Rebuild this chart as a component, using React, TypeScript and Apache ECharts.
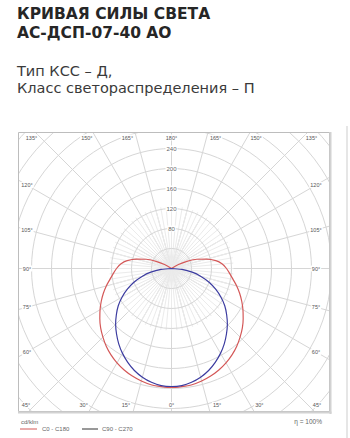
import React, { useEffect, useRef } from "react";
import * as echarts from "echarts";

// ---------- data ----------
const titleLines = ["КРИВАЯ СИЛЫ СВЕТА", "АС-ДСП-07-40 АО"];
const subtitleLines = ["Тип КСС – Д,", "Класс светораспределения – П"];
const gammaAngles = [0, 5, 10, 15, 20, 25, 30, 35, 40, 45, 50, 55, 60, 65, 70, 75, 80, 85, 90, 95, 100, 105, 110, 115, 120, 125, 130, 135, 140, 145, 150, 155, 160, 165, 170, 175, 180];
// C0 - C180 plane (cd/klm)
const c0c180 = [238, 237, 236, 233, 229, 224, 218, 211, 203, 194, 185, 175, 165, 155, 145, 135, 125, 117, 110, 102, 90, 72, 54, 34, 16, 0, 0, 0, 0, 0, 0, 0, 0, 0, 0, 0, 0];
// C90 - C270 plane (cd/klm)
const c90c270 = [236, 235, 231, 225, 217, 207, 196, 184, 171, 158, 144, 130, 114, 97, 80, 61, 42, 21, 0, 0, 0, 0, 0, 0, 0, 0, 0, 0, 0, 0, 0, 0, 0, 0, 0, 0, 0];
const ringTicks = [80, 120, 160, 200, 240];
const frameAngleLabels = [0, 15, 30, 45, 60, 75, 90, 105, 120, 135, 150, 165, 180];
const legendNames = ["C0 - C180", "C90 - C270"];
const unitLabel = "cd/klm";
const efficiencyLabel = "η = 100%";

// ---------- layout ----------
const W = 350;
const H = 438;
const BOX = { x: 18, y: 132, w: 312, h: 280 };
const CX = 153.5; // polar centre inside box
const CY = 136.5;
const PX_PER_UNIT = 0.5;
const R_MAX = 440;
const RED = "#d45858";
const BLUE = "#3c3ca0";
const GRID = "#d6d6d6";

function planeSeries(values: number[]) {
  const pts: [number, number][] = [];
  for (let i = gammaAngles.length - 1; i >= 0; i--) pts.push([values[i], 180 + gammaAngles[i]]);
  for (let i = 1; i < gammaAngles.length; i++) pts.push([values[i], 180 - gammaAngles[i]]);
  return pts;
}

function frameLabelPos(theta: number, side: number) {
  const rad = (theta * Math.PI) / 180;
  const dx = side * Math.sin(rad);
  const dy = Math.cos(rad);
  let t = Infinity;
  let edge = "";
  if (Math.abs(dx) > 1e-9) {
    const tx = 144.5 / Math.abs(dx);
    if (tx < t) { t = tx; edge = "side"; }
  }
  if (dy > 1e-9) {
    const ty = 136.5 / dy;
    if (ty < t) { t = ty; edge = "bottom"; }
  }
  if (dy < -1e-9) {
    const ty = 131 / -dy;
    if (ty < t) { t = ty; edge = "top"; }
  }
  let x = CX + dx * t;
  const y = CY + dy * t;
  if (edge !== "side" && theta % 180 !== 0) x += side * 9;
  return [x, y];
}

export default function App() {
  const mainRef = useRef<HTMLDivElement>(null);
  const polarRef = useRef<HTMLDivElement>(null);

  useEffect(() => {
    const polarChart = echarts.init(polarRef.current!, null, { renderer: "svg" });
    const mainChart = echarts.init(mainRef.current!, null, { renderer: "svg" });

    const angleTexts: any[] = [];
    frameAngleLabels.forEach((a) => {
      const sides = a % 180 === 0 ? [0] : [-1, 1];
      sides.forEach((s) => {
        const [x, y] = frameLabelPos(a, s === 0 ? 1 : s);
        angleTexts.push({
          type: "text",
          x,
          y,
          z: 10,
          style: {
            text: a + "°",
            fontSize: 5.5,
            fontFamily: "Liberation Sans",
            fill: "#555",
            align: "center",
            verticalAlign: "middle",
            backgroundColor: "#fff",
            padding: [0, 1],
          },
        });
      });
    });

    polarChart.setOption({
      animation: false,
      backgroundColor: "transparent",
      polar: [
        { center: [CX, CY], radius: R_MAX * PX_PER_UNIT },
        { center: [CX, CY], radius: 62 },
      ],
      angleAxis: [
        {
          polarIndex: 0,
          type: "value",
          min: 0,
          max: 360,
          interval: 15,
          startAngle: 90,
          clockwise: true,
          axisLine: { show: false },
          axisTick: { show: false },
          axisLabel: { show: false },
          splitLine: { show: true, lineStyle: { color: GRID, width: 1 } },
        },
        {
          polarIndex: 1,
          type: "value",
          min: 0,
          max: 360,
          interval: 5,
          startAngle: 90,
          clockwise: true,
          axisLine: { show: false },
          axisTick: { show: false },
          axisLabel: { show: false },
          splitLine: { show: true, lineStyle: { color: "#ebebeb", width: 1 } },
        },
      ],
      radiusAxis: [
        {
          polarIndex: 0,
          type: "value",
          min: 0,
          max: R_MAX,
          interval: 40,
          z: 5,
          axisLine: { show: false },
          axisTick: { show: false },
          axisLabel: {
            formatter: (v: number) => (ringTicks.indexOf(v) >= 0 ? String(v) : ""),
            align: "center",
            margin: 0,
            fontSize: 6,
            fontFamily: "Liberation Sans",
            color: "#666",
            backgroundColor: "#fff",
            padding: [0, 1],
          },
          splitLine: { show: true, lineStyle: { color: GRID, width: 1 } },
        },
        {
          polarIndex: 1,
          type: "value",
          min: 0,
          max: 1,
          axisLine: { show: false },
          axisTick: { show: false },
          axisLabel: { show: false },
          splitLine: { show: false },
        },
      ],
      series: [
        {
          name: legendNames[0],
          type: "line",
          coordinateSystem: "polar",
          polarIndex: 0,
          data: planeSeries(c0c180),
          showSymbol: false,
          smooth: 0.3,
          z: 6,
          lineStyle: { color: RED, width: 1.2 },
        },
        {
          name: legendNames[1],
          type: "line",
          coordinateSystem: "polar",
          polarIndex: 0,
          data: planeSeries(c90c270),
          showSymbol: false,
          smooth: 0.3,
          z: 7,
          lineStyle: { color: BLUE, width: 1.2 },
        },
      ],
      graphic: angleTexts,
    });

    const legY = 429;
    mainChart.setOption({
      animation: false,
      backgroundColor: "transparent",
      graphic: [
        {
          type: "text", x: 17, y: 13.8,
          style: { text: titleLines[0], fontSize: 15.5, fontWeight: "bold", fontFamily: "DejaVu Sans", fill: "#262626", verticalAlign: "middle" },
        },
        {
          type: "text", x: 17, y: 32.8,
          style: { text: titleLines[1], fontSize: 15.5, fontWeight: "bold", fontFamily: "DejaVu Sans", fill: "#262626", verticalAlign: "middle" },
        },
        {
          type: "text", x: 17, y: 71.2,
          style: { text: subtitleLines[0], fontSize: 14.5, fontFamily: "DejaVu Sans", fill: "#3a3a3a", verticalAlign: "middle" },
        },
        {
          type: "text", x: 17, y: 87.7,
          style: { text: subtitleLines[1], fontSize: 14.5, fontFamily: "DejaVu Sans", fill: "#3a3a3a", verticalAlign: "middle" },
        },
        {
          type: "rect",
          shape: { x: BOX.x + 0.5, y: BOX.y + 0.5, width: BOX.w - 1, height: BOX.h - 1 },
          style: { fill: "none", stroke: "#bdbdbd", lineWidth: 1 },
        },
        {
          type: "line",
          shape: { x1: BOX.x + BOX.w + 0.5, y1: BOX.y, x2: BOX.x + BOX.w + 0.5, y2: BOX.y + BOX.h + 2 },
          style: { stroke: "#d2d2d2", lineWidth: 2 },
        },
        {
          type: "line",
          shape: { x1: BOX.x, y1: BOX.y + BOX.h + 0.5, x2: BOX.x + BOX.w + 1.5, y2: BOX.y + BOX.h + 0.5 },
          style: { stroke: "#d2d2d2", lineWidth: 2 },
        },
        {
          type: "line",
          shape: { x1: 347, y1: 126, x2: 347, y2: H },
          style: { stroke: "#e6e6e6", lineWidth: 2 },
        },
        {
          type: "text", x: 21, y: 422,
          style: { text: unitLabel, fontSize: 6, fontFamily: "Liberation Sans", fill: "#666", verticalAlign: "middle" },
        },
        {
          type: "line",
          shape: { x1: 20, y1: legY, x2: 37, y2: legY },
          style: { stroke: RED, lineWidth: 1 },
        },
        {
          type: "text", x: 42, y: legY,
          style: { text: legendNames[0], fontSize: 6, fontFamily: "Liberation Sans", fill: "#666", verticalAlign: "middle" },
        },
        {
          type: "line",
          shape: { x1: 82, y1: legY, x2: 98, y2: legY },
          style: { stroke: "#333", lineWidth: 1 },
        },
        {
          type: "text", x: 102, y: legY,
          style: { text: legendNames[1], fontSize: 6, fontFamily: "Liberation Sans", fill: "#666", verticalAlign: "middle" },
        },
        {
          type: "text", x: 322, y: 421,
          style: { text: efficiencyLabel, fontSize: 6.5, fontFamily: "Liberation Sans", fill: "#666", align: "right", verticalAlign: "middle" },
        },
      ],
    });

    return () => {
      polarChart.dispose();
      mainChart.dispose();
    };
  }, []);

  return (
    <div style={{ position: "fixed", left: 0, top: 0, width: W, height: H, background: "#fff" }}>
      <div
        ref={polarRef}
        style={{ position: "absolute", left: BOX.x, top: BOX.y, width: BOX.w, height: BOX.h, overflow: "hidden" }}
      />
      <div ref={mainRef} style={{ position: "absolute", left: 0, top: 0, width: W, height: H }} />
    </div>
  );
}
